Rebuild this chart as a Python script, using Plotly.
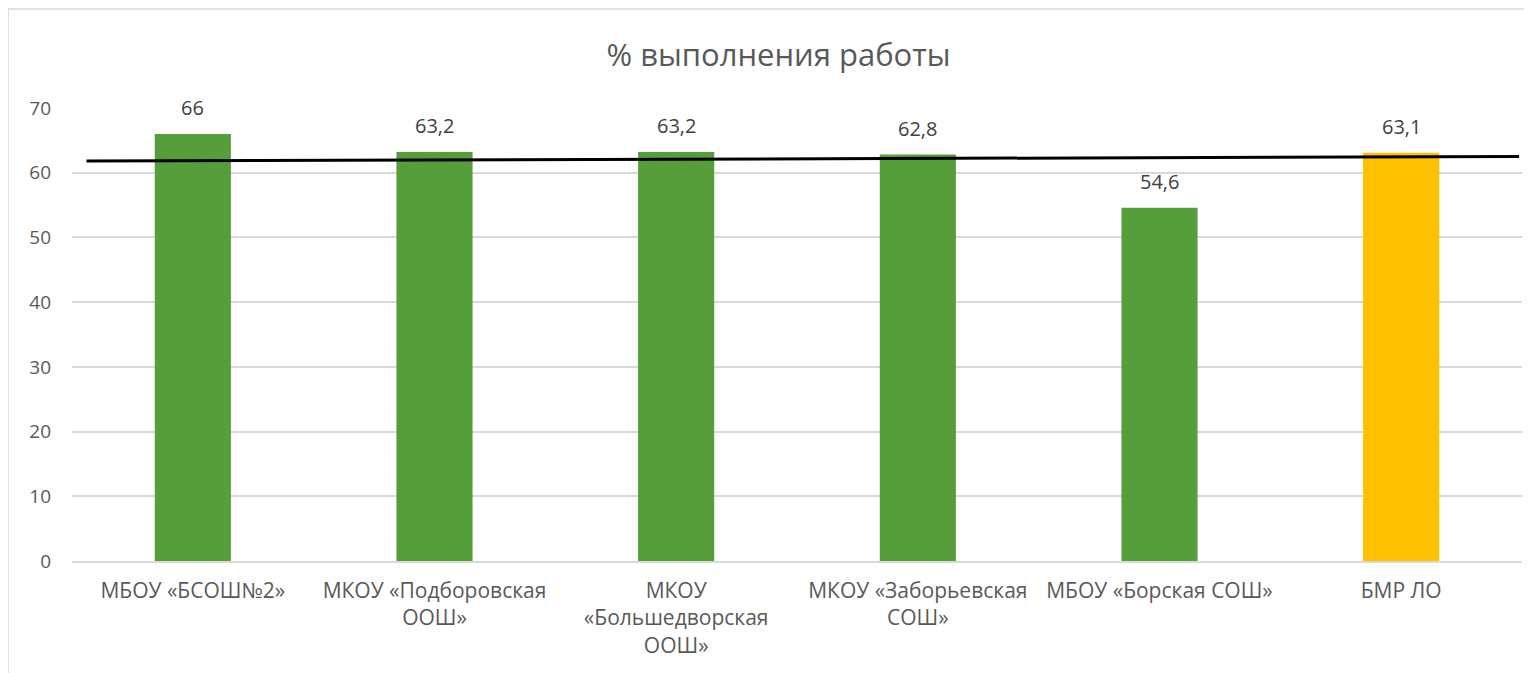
import plotly.graph_objects as go

categories = ["МБОУ «БСОШ№2»", "МКОУ «Подборовская<br>ООШ»", "МКОУ<br>«Большедворская<br>ООШ»",
              "МКОУ «Заборьевская<br>СОШ»", "МБОУ «Борская СОШ»", "БМР ЛО"]
values = [66, 63.2, 63.2, 62.8, 54.6, 63.1]
labels = ["66", "63,2", "63,2", "62,8", "54,6", "63,1"]
bar_colors = ["#559E3A", "#559E3A", "#559E3A", "#559E3A", "#559E3A", "#FFC000"]
ref_line = [61.8, 62.5]  # drawn black line: start and end values

font = "Open Sans"
fig = go.Figure()
fig.add_trace(go.Bar(
    x=categories, y=values, marker=dict(color=bar_colors, line=dict(width=0)),
    width=0.315, showlegend=False, hoverinfo="skip"))

for c, v, t in zip(categories, values, labels):
    fig.add_annotation(x=c, y=v, text=t, showarrow=False, yanchor="bottom", yshift=11,
                       font=dict(size=20, color="#404040", family=font))

fig.add_shape(type="line", xref="paper", yref="y", x0=0.01, x1=0.998,
              y0=ref_line[0], y1=ref_line[1], line=dict(color="black", width=3))
# chart border
fig.add_shape(type="rect", xref="paper", yref="paper", x0=-0.0441, x1=1.2,
              y0=-0.6, y1=1.2185, line=dict(color="#D9D9D9", width=1.5), layer="below")

fig.update_layout(
    width=1532, height=673,
    margin=dict(l=64, r=18, t=100, b=120, autoexpand=False),
    paper_bgcolor="white", plot_bgcolor="white",
    title=dict(text="% выполнения работы", x=0.503, xanchor="center", y=0.930, yanchor="middle",
               font=dict(size=31, color="#595959", family=font)),
    font=dict(family=font, color="#595959", size=20),
    xaxis=dict(tickfont=dict(size=21, color="#595959"), showgrid=False, automargin=False,
               showline=True, linecolor="#D9D9D9", linewidth=1.5, ticks="",
               ticklabelstandoff=10),
    yaxis=dict(range=[0, 70], dtick=10, showgrid=True, gridcolor="#D9D9D9", gridwidth=1.5,
               zeroline=False, tickfont=dict(size=19, color="#595959"), ticks="",
               ticklabelstandoff=20, automargin=False),
    bargap=0.685,
)
fig.write_html("out.html")
